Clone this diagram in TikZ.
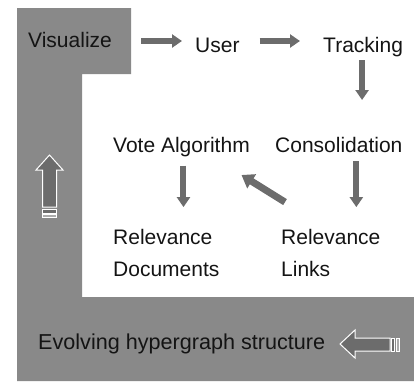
\documentclass[tikz,border=0pt]{standalone}
\usepackage{fontspec}
\setmainfont{Liberation Sans}
\usetikzlibrary{arrows.meta,calc}
\definecolor{bggray}{RGB}{137,137,137}
\definecolor{arrgray}{RGB}{108,108,108}
\definecolor{stripegray}{RGB}{172,172,172}
\definecolor{txt}{RGB}{20,20,20}
\begin{document}
\begin{tikzpicture}[x=1pt,y=-1pt,
  lbl/.style={font=\fontsize{21}{32}\selectfont, text=txt, inner sep=0pt, anchor=base west},
  fat/.style={draw=arrgray, line width=6pt, -{Triangle[width=13pt,length=10pt]}},
  hollow/.style={fill=arrgray, draw=white, line width=1pt, line join=miter},
  stripe/.style={draw=white, line width=0.8pt}]
\useasboundingbox (0,0) rectangle (414,381);
% gray L-shaped band
\fill[bggray] (17,8) -- (131,8) -- (131,74) -- (82,74) -- (82,297) -- (414,297) -- (414,381) -- (17,381) -- cycle;
% labels
\node[lbl] (vis) at (28,47) {Visualize};
\node[lbl] (user) at (195,52) {User};
\node[lbl] (track) at (323,52) {Tracking};
\node[lbl] (vote) at (113,152) {Vote Algorithm};
\node[lbl] (cons) at (275,152) {Consolidation};
\node[lbl, align=left] (reldoc) at (113,276.5) {Relevance\\Documents};
\node[lbl, align=left] (rellink) at (281,276.5) {Relevance\\Links};
\node[lbl, font=\fontsize{21.6}{26}\selectfont] (evolve) at (38,349.5) {Evolving hypergraph structure};
% connectors
\draw[fat] ($(vis.base east)+(29,-6)$) -- ($(user.base west)+(-13,-11)$);
\draw[fat] ($(user.base east)+(20,-11)$) -- ($(track.base west)+(-23,-11)$);
\draw[fat] ($(track.base)+(-1,8)$) -- ($(track.base |- cons.base)+(-1,-52)$);
\draw[fat] ($(vote.south)+(2,9)$) -- ($(vote.south |- reldoc.north)+(2,-22)$);
\draw[fat] ($(cons.south)+(17.5,9)$) -- ($(cons.south |- rellink.north)+(17.5,-22)$);
\draw[fat, line width=7pt, -{Triangle[width=16pt,length=12pt]}] ($(rellink.north west)+(4,-27)$) -- ($(vote.base)+(60,23)$);
% hollow up arrow on the left
\filldraw[hollow] (49.5,155) -- (63,170) -- (56.5,170) -- (56.5,207) -- (42.5,207) -- (42.5,170) -- (36,170) -- cycle;
\filldraw[stripe, fill=arrgray] (42.5,209.5) rectangle (56.5,213);
\filldraw[stripe, fill=stripegray] (42.5,214.5) rectangle (56.5,217.5);
% hollow left arrow at the bottom
\filldraw[hollow] (340,344) -- (355,330) -- (355,338) -- (390,338) -- (390,351) -- (355,351) -- (355,358) -- cycle;
\filldraw[stripe, fill=arrgray] (391.5,338) rectangle (394.5,351);
\filldraw[stripe, fill=stripegray] (396,338) rectangle (399.5,351);
\end{tikzpicture}
\end{document}
